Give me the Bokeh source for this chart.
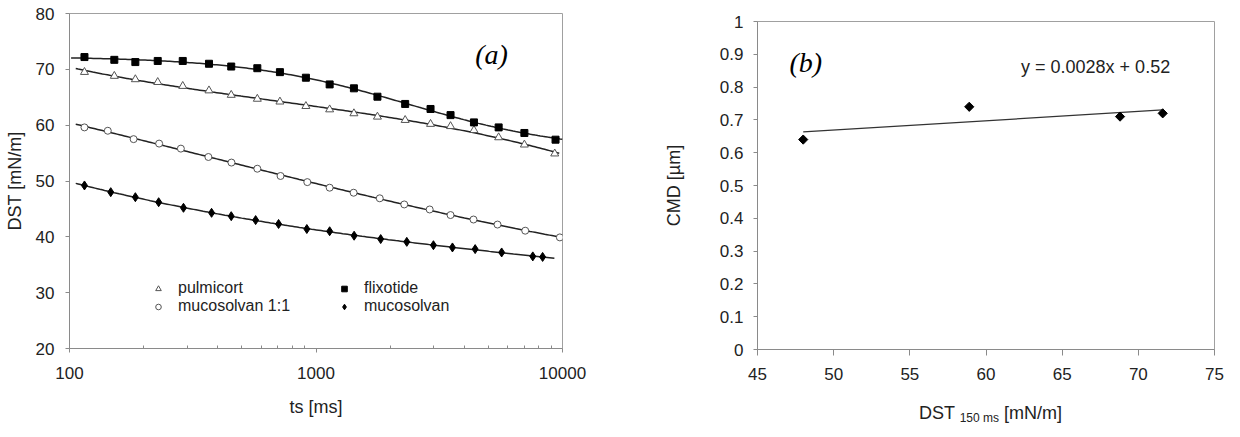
import numpy as np
from bokeh.plotting import figure
from bokeh.models import Legend, Label, FixedTicker, BasicTickFormatter, Range1d, Div
from bokeh.layouts import row, column
from bokeh.embed import file_html
from bokeh.resources import INLINE

# ---------------- data, panel (a) ----------------
ts_pulmicort = [115, 152, 185, 228, 288, 368, 453, 578, 714, 910, 1136, 1425, 1775, 2300, 2915, 3514, 4373, 5508, 7004, 9300]
pulmicort = [69.5, 68.8, 68.2, 67.7, 67.0, 66.2, 65.4, 64.7, 64.2, 63.4, 62.8, 62.1, 61.5, 60.9, 60.2, 59.8, 59.1, 57.8, 56.5, 54.9]
ts_flixotide = [115, 152, 185, 228, 288, 368, 453, 578, 714, 910, 1136, 1425, 1775, 2300, 2915, 3514, 4373, 5508, 7004, 9370]
flixotide = [72.2, 71.7, 71.3, 71.5, 71.5, 71.0, 70.5, 70.2, 69.5, 68.5, 67.3, 66.6, 65.1, 63.8, 62.9, 61.8, 60.5, 59.6, 58.6, 57.4]
ts_muco11 = [115, 143, 182, 231, 283, 366, 454, 578, 718, 922, 1136, 1421, 1814, 2281, 2892, 3514, 4354, 5449, 7060, 9755]
muco11 = [59.6, 59.0, 57.5, 56.7, 55.8, 54.3, 53.3, 52.2, 50.9, 49.8, 48.8, 47.9, 46.9, 45.8, 44.9, 43.9, 43.1, 42.2, 41.1, 39.9]
ts_muco = [115, 147, 185, 230, 290, 377, 453, 569, 705, 918, 1136, 1428, 1830, 2335, 2995, 3577, 4422, 5665, 7576, 8305]
muco = [49.2, 48.0, 47.1, 46.2, 45.2, 44.3, 43.7, 43.0, 42.3, 41.4, 41.0, 40.2, 39.6, 39.1, 38.5, 38.1, 37.8, 37.2, 36.5, 36.4]

# trend line extents (ms)
trend_span = {"pulmicort": (106, 9700), "flixotide": (101.5, 10000),
              "muco11": (106, 9700), "muco": (106, 9270)}

# ---------------- data, panel (b) ----------------
dst150 = [48.0, 58.9, 68.8, 71.6]
cmd = [0.64, 0.74, 0.71, 0.72]

FONT = "Liberation Sans"
AX = "#8a8a8a"
TXT = "#222222"
ROT = np.pi / 4  # squares turned into diamonds


def trend(xs, ys, span, deg=3):
    lx = np.log10(np.asarray(xs, float))
    c = np.polyfit(lx, np.asarray(ys, float), deg)
    gx = np.linspace(np.log10(span[0]), np.log10(span[1]), 200)
    return 10 ** gx, np.polyval(c, gx)


def sigmoid_trend(xs, ys, span):
    lx = np.log10(np.asarray(xs, float))
    yv = np.asarray(ys, float)
    best = None
    for c0 in np.linspace(2.5, 4.8, 93):
        for k in np.linspace(0.3, 5.0, 48):
            s = 1.0 / (1.0 + 10 ** (-(lx - c0) * k))
            A = np.vstack([np.ones_like(s), s]).T
            coef = np.linalg.lstsq(A, yv, rcond=None)[0]
            r = float(np.sum((A @ coef - yv) ** 2))
            if best is None or r < best[0]:
                best = (r, c0, k, coef)
    _, c0, k, coef = best
    gx = np.linspace(np.log10(span[0]), np.log10(span[1]), 200)
    s = 1.0 / (1.0 + 10 ** (-(gx - c0) * k))
    return 10 ** gx, coef[0] + coef[1] * s


def style_axes(p):
    for ax in (p.xaxis[0], p.yaxis[0]):
        ax.axis_line_color = AX
        ax.major_tick_line_color = AX
        ax.minor_tick_line_color = AX
        ax.major_label_text_font = FONT
        ax.major_label_text_font_size = "17px"
        ax.major_label_text_color = TXT
        ax.axis_label_text_font = FONT
        ax.axis_label_text_font_size = "18px"
        ax.axis_label_text_font_style = "normal"
        ax.axis_label_text_color = TXT
    p.xgrid.visible = False
    p.ygrid.visible = False
    p.outline_line_color = "#a0a0a0"
    p.background_fill_color = "white"
    p.border_fill_color = "white"


# ---------------- panel (a) ----------------
p1 = figure(width=632, height=421, x_axis_type="log",
            x_range=Range1d(100, 10000), y_range=Range1d(20, 80),
            output_backend="svg", toolbar_location=None,
            min_border_left=69, min_border_right=70,
            min_border_top=13, min_border_bottom=73)
style_axes(p1)
p1.xaxis.ticker = FixedTicker(ticks=[100, 1000, 10000],
                              minor_ticks=[200, 300, 400, 500, 600, 700, 800, 900,
                                           2000, 3000, 4000, 5000, 6000, 7000, 8000, 9000])
p1.xaxis.formatter = BasicTickFormatter(use_scientific=False)
p1.xaxis.major_tick_out = 4
p1.xaxis.major_tick_in = 0
p1.xaxis.minor_tick_in = 3
p1.xaxis.minor_tick_out = 0
p1.xaxis.major_label_standoff = 14
p1.xaxis.axis_label = "ts [ms]"
p1.xaxis.axis_label_standoff = 15
p1.yaxis.ticker = FixedTicker(ticks=[20, 30, 40, 50, 60, 70, 80], minor_ticks=[])
p1.yaxis.major_tick_out = 4
p1.yaxis.major_tick_in = 0
p1.yaxis.major_label_standoff = 11
p1.yaxis.axis_label = "DST [mN/m]"
p1.yaxis.axis_label_standoff = 8

for xs, ys, key in [(ts_pulmicort, pulmicort, "pulmicort"),
                    (ts_muco11, muco11, "muco11"),
                    (ts_muco, muco, "muco")]:
    lx, ly = trend(xs, ys, trend_span[key])
    p1.line(lx, ly, line_color="#222222", line_width=1.5)
lx, ly = sigmoid_trend(ts_flixotide, flixotide, trend_span["flixotide"])
p1.line(lx, ly, line_color="#222222", line_width=1.5)

r_p = p1.scatter(ts_pulmicort, pulmicort, marker="triangle", size=8,
                 line_color="#555555", fill_color="white", line_width=1)
r_f = p1.scatter(ts_flixotide, flixotide, marker="square", size=7,
                 line_color="black", fill_color="black")
r_m11 = p1.scatter(ts_muco11, muco11, marker="circle", size=7,
                   line_color="#555555", fill_color="white", line_width=1)
r_m = p1.scatter(ts_muco, muco, marker="diamond", size=9,
                 line_color="black", fill_color="black")

legend = Legend(items=[("pulmicort", [r_p]), ("mucosolvan 1:1", [r_m11]),
                       ("flixotide", [r_f]), ("mucosolvan", [r_m])],
                ncols=2, location=(82, 33),
                label_text_font=FONT, label_text_font_size="16px", label_text_color=TXT,
                glyph_width=14, glyph_height=15, label_height=15, label_standoff=13,
                label_width=159,
                spacing=0, padding=0, margin=0,
                border_line_color=None, background_fill_alpha=0)
p1.add_layout(legend)

p1.add_layout(Label(x=4424, y=72.6, text="(a)", text_font="Liberation Serif",
                    text_font_style="italic", text_font_size="28px",
                    text_color="black", text_baseline="middle"))

# ---------------- panel (b) ----------------
p2 = figure(width=592, height=397,
            x_range=Range1d(45, 75), y_range=Range1d(0, 1),
            output_backend="svg", toolbar_location=None,
            min_border_left=125, min_border_right=10,
            min_border_top=21, min_border_bottom=48)
style_axes(p2)
p2.xaxis.ticker = FixedTicker(ticks=[45, 50, 55, 60, 65, 70, 75], minor_ticks=[])
p2.xaxis.major_tick_out = 6
p2.xaxis.major_tick_in = 0
p2.xaxis.major_label_standoff = 12
p2.yaxis.ticker = FixedTicker(ticks=[0, 0.1, 0.2, 0.3, 0.4, 0.5, 0.6, 0.7, 0.8, 0.9, 1.0],
                              minor_ticks=[])
p2.yaxis.major_tick_out = 4
p2.yaxis.major_tick_in = 0
p2.yaxis.major_label_standoff = 10
p2.yaxis.axis_label = "CMD [µm]"
p2.yaxis.axis_label_standoff = 33

c = np.polyfit(dst150, cmd, 1)
fx = np.array([min(dst150), max(dst150)])
p2.line(fx, np.polyval(c, fx), line_color="#333333", line_width=1.3)
p2.scatter(dst150, cmd, marker="square", angle=ROT, size=6.5,
           line_color="black", fill_color="black")

p2.add_layout(Label(x=47.1, y=0.875, text="(b)", text_font="Liberation Serif",
                    text_font_style="italic", text_font_size="28px",
                    text_color="black", text_baseline="middle"))
p2.add_layout(Label(x=62.3, y=0.86, text="y = 0.0028x + 0.52", text_font=FONT,
                    text_font_size="18px", text_color=TXT, text_baseline="middle"))

# x-axis title of panel (b) with subscript, as real HTML text under the frame
xlabel_b = Div(
    text=('<div style="width:457px;margin-left:125px;text-align:center;'
          'font-family:\'Liberation Sans\';font-size:18px;color:#222222;'
          'line-height:22px;white-space:nowrap;">'
          'DST <span style="font-size:12px;position:relative;top:3px;">150 ms</span>'
          ' [mN/m]</div>'),
    width=592, height=24)

layout = row(p1, column(p2, xlabel_b, spacing=0), spacing=0)
open("out.html", "w").write(file_html(layout, INLINE))
